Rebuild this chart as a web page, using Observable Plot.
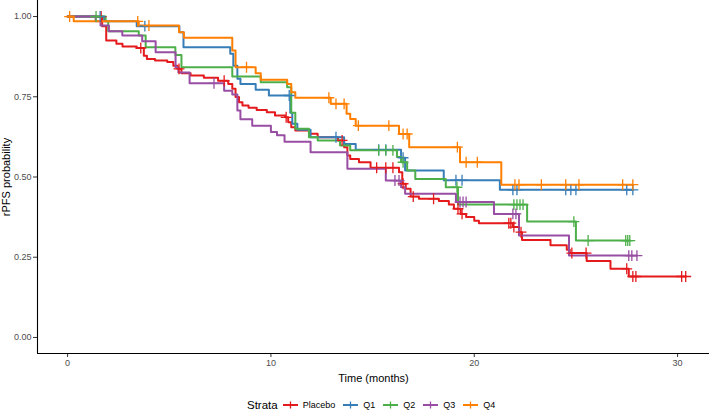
<!DOCTYPE html>
<html><head><meta charset="utf-8">
<script src="https://cdn.jsdelivr.net/npm/d3@7"></script>
<script src="https://cdn.jsdelivr.net/npm/@observablehq/plot@0.6"></script>
<style>
body{margin:0;background:#fff;font-family:"Liberation Sans",Arial,sans-serif;}
#wrap{position:relative;width:709px;height:419px;overflow:hidden;}
#legend{position:absolute;left:247px;top:396px;display:flex;align-items:center;height:18px;white-space:nowrap;}
#legend .ttl{font-size:11.5px;color:#000;margin-right:5px;}
#legend .item{display:flex;align-items:center;margin-right:8px;}
#legend .item span{font-size:9px;color:#000;margin-left:5px;}
</style></head><body><div id="wrap"><div id="chart"></div><div id="legend"></div></div>
<script>
const strata = ["Placebo","Q1","Q2","Q3","Q4"];
const colors = ["#E41A1C","#377EB8","#4DAF4A","#984EA3","#FF7F00"];
const xTicks = [0,10,20,30];
const yTicks = [0,0.25,0.5,0.75,1];

const placeboTimes = [1.7,1.9,2.4,2.7,3.4,3.75,3.9,4.3,4.9,5.2,5.4,5.6,6.05,6.7,7.4,7.9,8.1,8.26,8.43,8.6,8.9,9.3,9.8,10.2,10.7,10.85,11.0,11.2,11.9,12.3,13.3,13.6,13.76,13.9,14.33,14.9,16.3,16.46,16.63,16.87,17.28,18.26,18.75,19.0,19.33,19.6,20.0,20.23,21.9,22.2,22.35,23.75,24.55,24.7,25.53,26.7,27.6];
const placeboSurv  = [0.97,0.925,0.915,0.907,0.902,0.878,0.868,0.863,0.858,0.847,0.837,0.823,0.816,0.809,0.80,0.79,0.775,0.749,0.733,0.723,0.716,0.709,0.702,0.692,0.686,0.671,0.655,0.645,0.635,0.624,0.614,0.593,0.567,0.556,0.546,0.529,0.515,0.479,0.463,0.439,0.432,0.425,0.414,0.401,0.385,0.375,0.364,0.356,0.344,0.328,0.304,0.287,0.273,0.263,0.238,0.214,0.19];
const placeboCensor = [1.65,3.6,5.48,7.7,10.75,13.5,15.2,15.65,16.0,16.5,17.0,18.0,19.2,19.4,21.7,21.8,21.95,22.3,24.8,25.5,27.5,27.8,27.95,30.2,30.4];

const q1Times = [1.8,3.4,5.5,5.7,8.0,8.15,8.35,8.5,9.25,9.9,10.95,11.05,11.3,11.95,13.6,14.17,16.4,16.6,18.5,21.26];
const q1Surv  = [0.985,0.97,0.951,0.904,0.884,0.847,0.806,0.79,0.772,0.754,0.70,0.666,0.647,0.624,0.603,0.585,0.56,0.52,0.49,0.46];
const q1Censor = [1.6,3.8,10.9,13.2,15.3,15.65,16.5,19.1,19.4,21.9,22.1,24.5,24.75,25.0,27.5,27.8];

const q2Times = [1.87,2.0,3.5,3.84,5.3,5.6,8.1,9.5,10.8,11.0,11.2,11.87,12.3,13.4,13.9,16.2,16.4,16.7,17.1,18.6,19.2,22.6,25.0];
const q2Surv  = [0.985,0.954,0.941,0.904,0.88,0.842,0.813,0.795,0.78,0.70,0.65,0.624,0.614,0.598,0.583,0.562,0.546,0.52,0.494,0.468,0.414,0.361,0.302];
const q2Censor = [1.4,15.3,15.65,16.0,16.5,19.15,21.95,22.1,22.25,22.4,24.9,25.6,27.45,27.55,27.65];

const q3Times = [1.38,1.62,2.03,2.69,3.67,4.33,5.31,5.45,6.0,7.7,8.1,8.35,8.5,9.08,10.0,10.3,10.67,11.95,13.76,15.65,16.4,16.6,19.1,20.97,22.2,24.66];
const q3Surv  = [0.985,0.972,0.954,0.941,0.923,0.889,0.842,0.826,0.792,0.769,0.757,0.707,0.68,0.66,0.64,0.63,0.61,0.577,0.526,0.489,0.468,0.448,0.422,0.385,0.318,0.255];
const q3Censor = [7.2,16.1,16.3,19.3,19.45,19.6,21.9,22.05,27.6,27.75,28.0];

const q4Times = [0.3,3.5,5.48,5.72,8.1,8.26,9.25,9.5,10.8,11.0,11.2,12.94,13.72,13.9,14.17,16.3,16.8,19.3,21.33];
const q4Surv  = [0.985,0.972,0.951,0.934,0.894,0.842,0.823,0.803,0.79,0.764,0.747,0.728,0.697,0.681,0.66,0.634,0.593,0.546,0.476];
const q4Censor = [0.1,3.45,4.0,8.8,12.85,13.2,13.6,14.3,15.8,16.5,16.7,19.17,19.6,20.15,22.0,22.2,23.3,24.5,25.15,27.3,27.8];

const xDomain = [-1.48, 31.57];
const yDomain = [-0.05, 1.05];

const series = [
  {name:"Placebo", times:placeboTimes, surv:placeboSurv, censor:placeboCensor},
  {name:"Q1", times:q1Times, surv:q1Surv, censor:q1Censor},
  {name:"Q2", times:q2Times, surv:q2Surv, censor:q2Censor},
  {name:"Q3", times:q3Times, surv:q3Surv, censor:q3Censor},
  {name:"Q4", times:q4Times, surv:q4Surv, censor:q4Censor}
];
const lineData = [], censData = [];
for (const sr of series) {
  const pts = [{t:0, s:1}];
  sr.times.forEach((t,i) => pts.push({t, s:sr.surv[i]}));
  const end = Math.max(d3.max(sr.censor), d3.max(sr.times));
  pts.push({t:end, s:sr.surv[sr.surv.length-1]});
  pts.forEach(p => lineData.push({...p, strata:sr.name}));
  for (const c of sr.censor) {
    let s = 1;
    sr.times.forEach((t,i) => { if (t <= c) s = sr.surv[i]; });
    censData.push({t:c, s, strata:sr.name});
  }
}

const chart = Plot.plot({
  width:709, height:393,
  marginLeft:37, marginRight:0, marginTop:0, marginBottom:40,
  style:{fontFamily:"'Liberation Sans', Arial, sans-serif", background:"#fff", overflow:"visible"},
  x:{domain:xDomain},
  y:{domain:yDomain},
  color:{domain:strata, range:colors},
  marks:[
    Plot.axisX({ticks:xTicks, tickSize:4, tickPadding:2, fontSize:9, color:"#4d4d4d", stroke:"#333",
      label:"Time (months)", labelAnchor:"center", labelOffset:28, labelArrow:"none"}),
    Plot.axisY({ticks:yTicks, tickSize:4, tickPadding:2, fontSize:9, color:"#4d4d4d", stroke:"#333",
      tickFormat:d3.format(".2f"), label:"rPFS probability", labelAnchor:"center", labelOffset:35, labelArrow:"none"}),
    Plot.ruleX([xDomain[0]], {stroke:"#000", strokeWidth:1.1}),
    Plot.ruleY([yDomain[0]], {stroke:"#000", strokeWidth:1.1}),
    ...strata.map(name => Plot.line(lineData.filter(d => d.strata === name),
      {x:"t", y:"s", stroke:"strata", curve:"step-after", strokeWidth:2})),
    ...strata.map(name => Plot.dot(censData.filter(d => d.strata === name),
      {x:"t", y:"s", stroke:"strata", symbol:"plus", r:3.6, strokeWidth:1.3}))
  ]
});
document.getElementById("chart").append(chart);
d3.select(chart).selectAll('[aria-label="x-axis label"] text, [aria-label="y-axis label"] text')
  .attr("font-size", 11).attr("fill", "#000");

const legend = d3.select("#legend");
legend.append("span").attr("class","ttl").text("Strata");
strata.forEach((name,i) => {
  const it = legend.append("div").attr("class","item");
  const svg = it.append("svg").attr("width",15).attr("height",12);
  svg.append("line").attr("x1",0).attr("x2",15).attr("y1",6).attr("y2",6)
    .attr("stroke",colors[i]).attr("stroke-width",2);
  svg.append("line").attr("x1",7.5).attr("x2",7.5).attr("y1",2.5).attr("y2",9.5)
    .attr("stroke",colors[i]).attr("stroke-width",1.3);
  it.append("span").text(name);
});
</script></body></html>
